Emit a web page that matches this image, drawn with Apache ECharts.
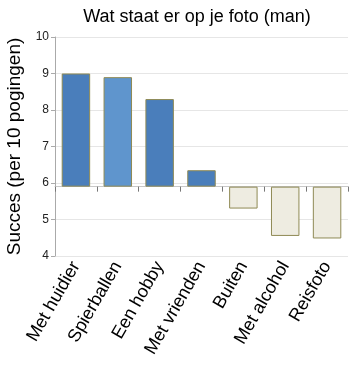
<!DOCTYPE html>
<html><head><meta charset="utf-8">
<script src="https://cdn.jsdelivr.net/npm/echarts@6/dist/echarts.min.js"></script>
<style>html,body{margin:0;padding:0;background:#fff}#c{width:356px;height:375px}</style>
</head><body><div id="c"></div>
<script>
const categories = ['Met huidier','Spierballen','Een hobby','Met vrienden','Buiten','Met alcohol','Reisfoto'];
const values = [9.0, 8.9, 8.3, 6.35, 5.3, 4.55, 4.48];
const barColors = ['#4a7ebb','#5f95cd','#4a7ebb','#4a7ebb','#eeece1','#eeece1','#eeece1'];
const baseline = 5.9;
const yMin = 4, yMax = 10;

const chart = echarts.init(document.getElementById('c'));
chart.setOption({
  animation:false,
  title:{text:'Wat staat er op je foto (man)', left:192, top:3, textAlign:'center',
    textStyle:{fontFamily:'Liberation Sans', fontSize:18, fontWeight:'normal', color:'#000'}},
  grid:{left:55, right:8, top:37, bottom:119, containLabel:false, outerBoundsMode:'none'},
  xAxis:[
    {type:'category', data:categories, boundaryGap:true,
     axisLine:{onZero:true, lineStyle:{color:'#c8c8c8'}},
     axisTick:{show:true, inside:false, length:5, interval:0, lineStyle:{color:'#777'}, alignWithLabel:false},
     axisLabel:{show:false}},
    {type:'category', data:categories, position:'bottom',
     axisLine:{show:false, onZero:false}, axisTick:{show:false},
     axisLabel:{rotate:60, margin:7, interval:0, fontFamily:'Liberation Sans', fontSize:18, color:'#000'}}
  ],
  yAxis:{type:'value', min:yMin-baseline, max:yMax-baseline, interval:1,
    name:'Succes (per 10 pogingen)', nameLocation:'middle', nameGap:29, nameRotate:90,
    nameTextStyle:{fontFamily:'Liberation Sans', fontSize:19, color:'#000'},
    axisLine:{show:true, lineStyle:{color:'#aaa'}},
    axisTick:{show:true, length:4, lineStyle:{color:'#aaa'}},
    axisLabel:{fontFamily:'Liberation Sans', fontSize:12, color:'#222', margin:6,
      formatter:v=>String(Math.round(v+baseline))},
    splitLine:{lineStyle:{color:'#e6e6e6'}}},
  series:[{type:'bar', xAxisIndex:0, barCategoryGap:'32%',
    data:values.map((v,i)=>({value:+(v-baseline).toFixed(3),
      itemStyle:{color:barColors[i], borderColor:'#8f8a55', borderWidth:1}}))}]
});
</script></body></html>
